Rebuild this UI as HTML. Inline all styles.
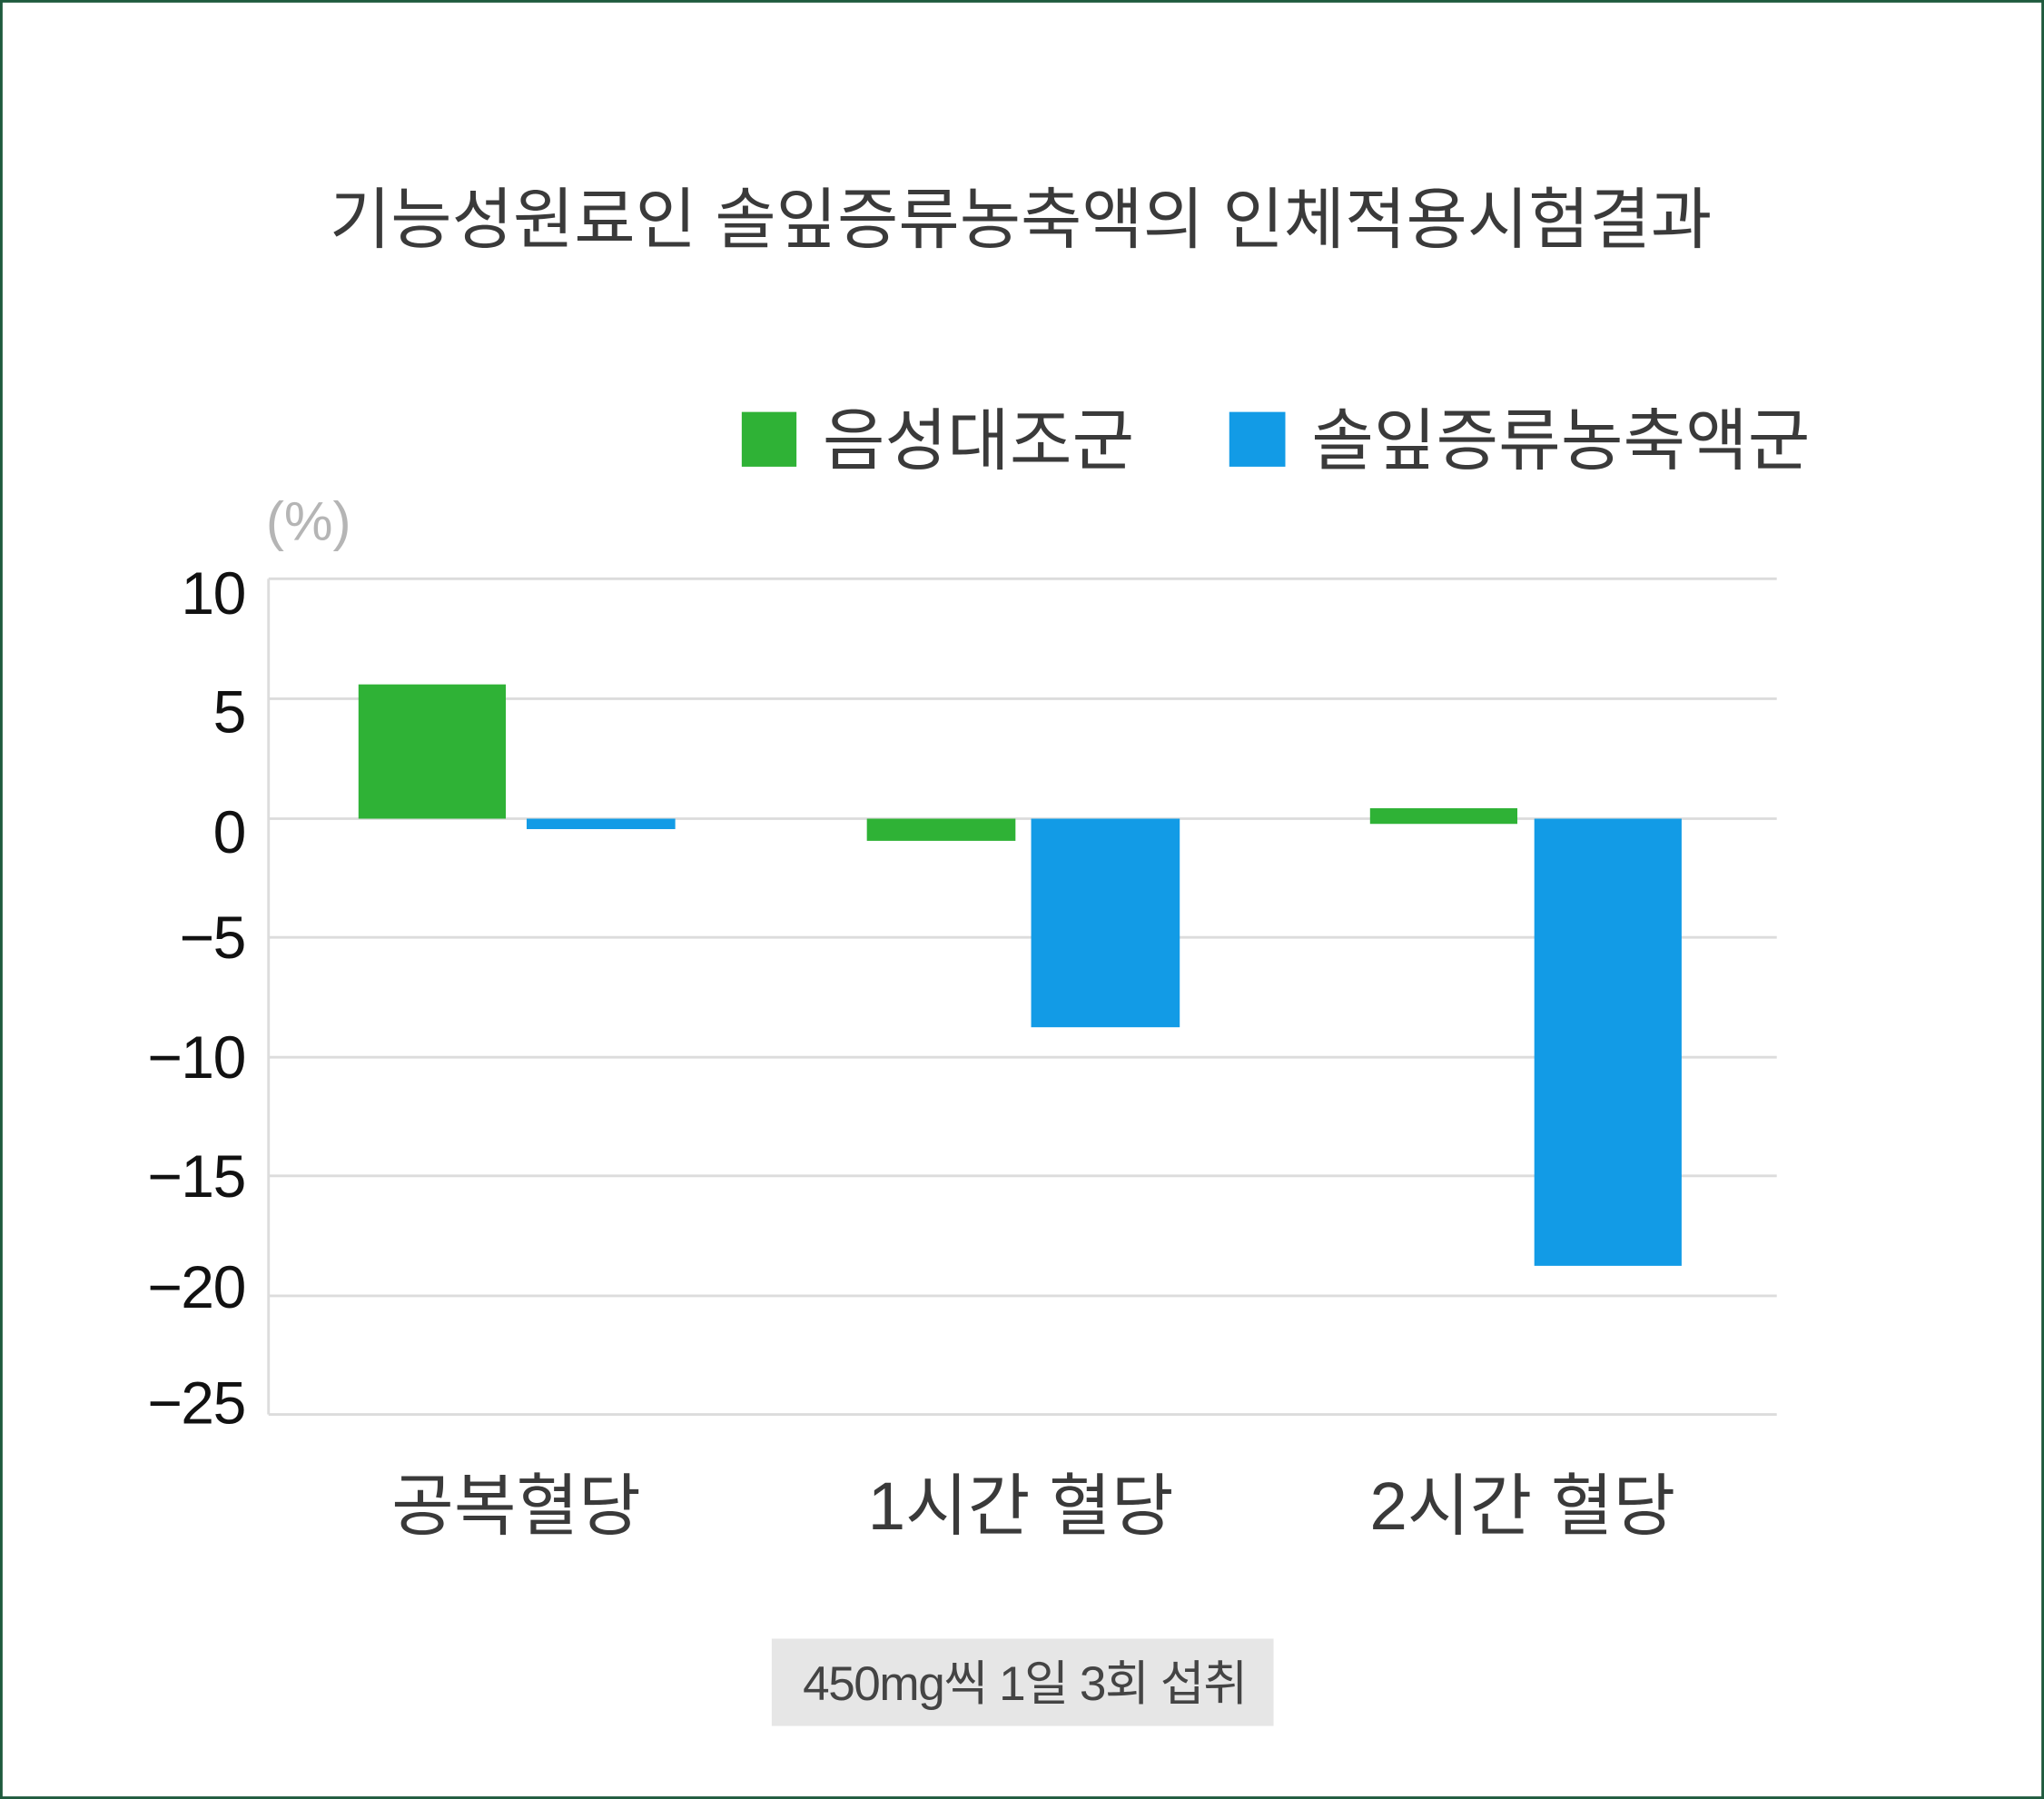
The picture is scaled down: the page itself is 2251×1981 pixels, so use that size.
<!DOCTYPE html>
<html><head><meta charset="utf-8"><style>
html,body{margin:0;padding:0;background:#fff}
svg{display:block}
text{font-family:"Liberation Sans","Noto Sans CJK KR",sans-serif}
</style></head><body>
<svg width="2251" height="1981" viewBox="0 0 1568 1380" preserveAspectRatio="none" xmlns="http://www.w3.org/2000/svg">
<rect x="1" y="1" width="1566" height="1378" fill="#fff" stroke="#1f5a3e" stroke-width="2"/>
<text x="783" y="186" font-size="51" fill="#3a3a3a" text-anchor="middle">기능성원료인 솔잎증류농축액의 인체적용시험결과</text>
<rect x="569" y="316" width="42" height="42" fill="#2fb236"/>
<text x="631" y="356" font-size="52" fill="#3a3a3a">음성대조군</text>
<rect x="943" y="316" width="43" height="42" fill="#129be6"/>
<text x="1006" y="356" font-size="52" fill="#3a3a3a">솔잎증류농축액군</text>
<text x="204" y="414" font-size="42" fill="#b5b5b5">(%)</text>
<g stroke="#dcdcdc" stroke-width="2">
<line x1="206" y1="444" x2="1363" y2="444"/>
<line x1="206" y1="536" x2="1363" y2="536"/>
<line x1="206" y1="628" x2="1363" y2="628"/>
<line x1="206" y1="719" x2="1363" y2="719"/>
<line x1="206" y1="811" x2="1363" y2="811"/>
<line x1="206" y1="902" x2="1363" y2="902"/>
<line x1="206" y1="994" x2="1363" y2="994"/>
<line x1="206" y1="1085" x2="1363" y2="1085"/>
<line x1="206" y1="444" x2="206" y2="1085"/>
</g>
<g font-size="46" fill="#111" text-anchor="end" letter-spacing="-1">
<text x="188" y="471">10</text>
<text x="188" y="562">5</text>
<text x="188" y="654">0</text>
<text x="188" y="735">−5</text>
<text x="188" y="827">−10</text>
<text x="188" y="918">−15</text>
<text x="188" y="1003">−20</text>
<text x="188" y="1092">−25</text>
</g>
<rect x="275" y="525" width="113" height="103" fill="#2fb236"/>
<rect x="404" y="628" width="114" height="8" fill="#129be6"/>
<rect x="665" y="628" width="114" height="17" fill="#2fb236"/>
<rect x="791" y="628" width="114" height="160" fill="#129be6"/>
<rect x="1051" y="620" width="113" height="12" fill="#2fb236"/>
<rect x="1177" y="628" width="113" height="343" fill="#129be6"/>
<g font-size="52" fill="#3a3a3a" text-anchor="middle">
<text x="396" y="1173">공복혈당</text>
<text x="783" y="1173">1시간 혈당</text>
<text x="1168" y="1173">2시간 혈당</text>
</g>
<rect x="592" y="1257" width="385" height="67" fill="#e6e6e6"/>
<text x="786" y="1304" font-size="37" fill="#444" text-anchor="middle" letter-spacing="-1">450mg씩 1일 3회 섭취</text>
</svg>
</body></html>
